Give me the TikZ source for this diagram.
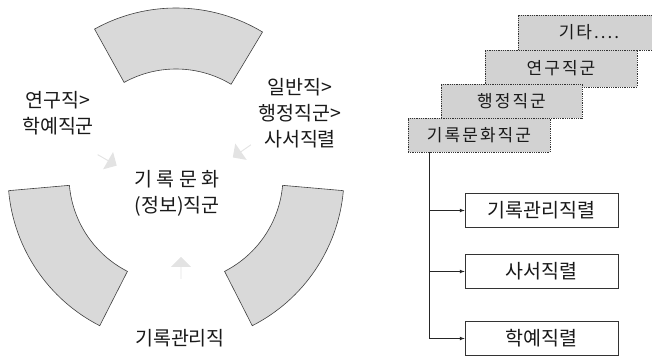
\documentclass[tikz,border=0pt]{standalone}
\usepackage{fontspec}
\setmainfont{Noto Sans CJK KR}
\usepackage{tikz}
\usetikzlibrary{shapes,arrows,positioning,calc}

\begin{document}
\begin{tikzpicture}[x=1pt,y=-1pt]
  \tikzstyle{seg}=[fill=gray!30, draw=black!75, line width=0.6pt]
  \tikzstyle{lbl}=[align=center, font=\fontsize{19.5}{26}\selectfont, text=black!90]
  \tikzstyle{hint}=[single arrow, fill=gray!22, draw=none, minimum width=20pt, minimum height=22pt, single arrow head extend=4pt, inner sep=0pt]
  \tikzstyle{stack}=[draw=black!80, densely dotted, line width=0.8pt, fill=gray!35, inner sep=0pt, font=\fontsize{17}{20}\selectfont\addfontfeature{LetterSpace=12}, text=black!90]
  \tikzstyle{job}=[draw=black!80, line width=0.6pt, fill=white, minimum width=153pt, minimum height=34pt, inner sep=0pt, font=\fontsize{19.5}{22}\selectfont, text=black!90]
  \tikzstyle{link}=[-latex, line width=0.7pt, black!85]

  \useasboundingbox (0,0) rectangle (652,357);

  % Ring
  \coordinate (c) at (176,176);
  \foreach \a/\b in {5/63, 117/175, 241/301}{
    \draw[seg] ($(c)+(\a:168)$) arc[start angle=\a, end angle=\b, radius=168]
      -- ($(c)+(\b:107)$) arc[start angle=\b, end angle=\a, radius=107] -- cycle;
  }

  % Labels round the ring
  \node[lbl] (research) at (58,113) {연구직>\\학예직군};
  \node[lbl] (admin) at (300,113) {일반직>\\행정직군>\\사서직렬};
  \node[lbl] (core) at (177,193) {기 록 문 화\\(정보)직군};
  \node[lbl] (records) at (180,338) {기록관리직};

  % Faint arrows toward the centre
  \node[hint, rotate=-30] (h1) at (107,160) {};
  \node[hint, rotate=-145] (h2) at (242,151) {};
  \node[hint, rotate=90] (h3) at (181,268) {};

  % Stacked groups
  \node[stack, minimum width=142pt, minimum height=35pt] (etc) at (589,32.5) {기타....};
  \node[stack, minimum width=152pt, minimum height=37pt] (resg) at (561,68.5) {연구직군};
  \node[stack, minimum width=141pt, minimum height=34pt] (adm) at (511.5,101) {행정직군};
  \node[stack, minimum width=142pt, minimum height=34pt] (rec) at (479,135) {기록문화직군};

  % Series under the group
  \node[job] (s1) at (541.5,210.5) {기록관리직렬};
  \node[job] (s2) at (541.5,271.5) {사서직렬};
  \node[job] (s3) at (541.5,338.5) {학예직렬};

  \coordinate (trunk) at ($(rec.south west)+(22,0)$);
  \draw[link] (trunk) |- (s1.west);
  \draw[link] (trunk) |- (s2.west);
  \draw[link] (trunk) |- (s3.west);
\end{tikzpicture}
\end{document}
